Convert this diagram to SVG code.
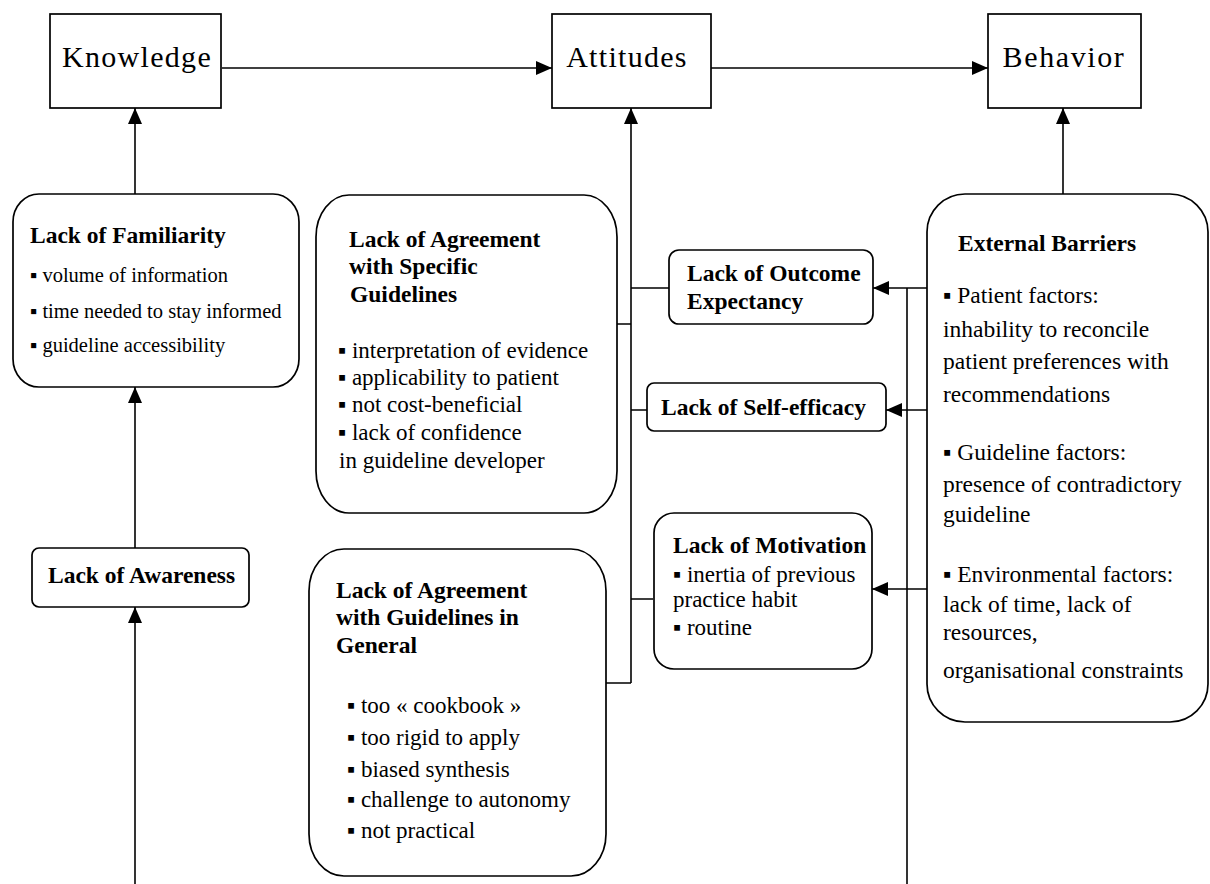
<svg xmlns="http://www.w3.org/2000/svg" width="1210" height="884" viewBox="0 0 1210 884" font-family="Liberation Serif, serif">
<style>
.box{fill:#fff;stroke:#000;stroke-width:1.7}
.c{fill:none;stroke:#000;stroke-width:1.6}
</style>
<defs>
<marker id="ah" markerUnits="userSpaceOnUse" markerWidth="16" markerHeight="14" refX="16" refY="7" orient="auto">
<path d="M0,0 L16,7 L0,14 z" fill="#000"/>
</marker>
</defs>
<g id="connectors">
<path class="c" d="M222,68 H552" marker-end="url(#ah)"/>
<path class="c" d="M711,68 H988" marker-end="url(#ah)"/>
<path class="c" d="M135,194 V108" marker-end="url(#ah)"/>
<path class="c" d="M135,548 V387" marker-end="url(#ah)"/>
<path class="c" d="M135,884 V607" marker-end="url(#ah)"/>
<path class="c" d="M631,683 V108" marker-end="url(#ah)"/>
<path class="c" d="M617,324 H631 M631,288 H669 M631,410 H647 M631,599 H653 M606,683 H631"/>
<path class="c" d="M1063,194 V108" marker-end="url(#ah)"/>
<path class="c" d="M907,884 V288"/>
<path class="c" d="M927,288 H873" marker-end="url(#ah)"/>
<path class="c" d="M927,410 H886" marker-end="url(#ah)"/>
<path class="c" d="M927,589 H872" marker-end="url(#ah)"/>
</g>
<g id="knowledge">
<rect class="box" x="50" y="14" width="171" height="94"/>
<text font-family="Liberation Serif, serif" font-size="30" letter-spacing="1.3" text-anchor="middle" x="137" y="67">Knowledge</text>
</g>
<g id="attitudes">
<rect class="box" x="552" y="14" width="159" height="94"/>
<text font-family="Liberation Serif, serif" font-size="30" letter-spacing="1.3" text-anchor="middle" x="627" y="67">Attitudes</text>
</g>
<g id="behavior">
<rect class="box" x="988" y="14" width="153" height="94"/>
<text font-family="Liberation Serif, serif" font-size="30" letter-spacing="1.6" text-anchor="middle" x="1064" y="67">Behavior</text>
</g>
<g id="familiarity">
<rect class="box" x="13" y="194" width="286" height="193" rx="26" ry="28"/>
<text font-family="Liberation Serif, serif" font-size="23.5" font-weight="bold" x="30" y="243">Lack of Familiarity</text>
<text font-family="Liberation Serif, serif" font-size="20.5" x="30" y="282">▪ volume of information</text>
<text font-family="Liberation Serif, serif" font-size="20.5" x="30" y="318">▪ time needed to stay informed</text>
<text font-family="Liberation Serif, serif" font-size="20.5" x="30" y="352">▪ guideline accessibility</text>
</g>
<g id="awareness">
<rect class="box" x="32" y="548" width="217" height="59" rx="7"/>
<text font-family="Liberation Serif, serif" font-size="23.5" font-weight="bold" x="48" y="583">Lack of Awareness</text>
</g>
<g id="specific">
<rect class="box" x="316" y="195" width="301" height="318" rx="33" ry="42"/>
<text font-family="Liberation Serif, serif" font-size="23.5" font-weight="bold" x="349" y="247">Lack of Agreement</text>
<text font-family="Liberation Serif, serif" font-size="23.5" font-weight="bold" x="349" y="274">with Specific</text>
<text font-family="Liberation Serif, serif" font-size="23.5" font-weight="bold" x="350" y="302">Guidelines</text>
<text font-family="Liberation Serif, serif" font-size="23" x="338" y="358">▪ interpretation of evidence</text>
<text font-family="Liberation Serif, serif" font-size="23" x="338" y="385">▪ applicability to patient</text>
<text font-family="Liberation Serif, serif" font-size="23" x="338" y="412">▪ not cost-beneficial</text>
<text font-family="Liberation Serif, serif" font-size="23" x="338" y="440">▪ lack of confidence</text>
<text font-family="Liberation Serif, serif" font-size="23" x="339" y="468">in guideline developer</text>
</g>
<g id="general">
<rect class="box" x="309" y="549" width="297" height="327" rx="35" ry="42"/>
<text font-family="Liberation Serif, serif" font-size="23.5" font-weight="bold" x="336" y="598">Lack of Agreement</text>
<text font-family="Liberation Serif, serif" font-size="23.5" font-weight="bold" x="336" y="625">with Guidelines in</text>
<text font-family="Liberation Serif, serif" font-size="23.5" font-weight="bold" x="336" y="653">General</text>
<text font-family="Liberation Serif, serif" font-size="23" x="347" y="713">▪ too « cookbook »</text>
<text font-family="Liberation Serif, serif" font-size="23" x="347" y="745">▪ too rigid to apply</text>
<text font-family="Liberation Serif, serif" font-size="23" x="347" y="777">▪ biased synthesis</text>
<text font-family="Liberation Serif, serif" font-size="23" x="347" y="807">▪ challenge to autonomy</text>
<text font-family="Liberation Serif, serif" font-size="23" x="347" y="838">▪ not practical</text>
</g>
<g id="outcome">
<rect class="box" x="669" y="250" width="204" height="74" rx="10"/>
<text font-family="Liberation Serif, serif" font-size="23.5" font-weight="bold" x="687" y="281">Lack of Outcome</text>
<text font-family="Liberation Serif, serif" font-size="23.5" font-weight="bold" x="687" y="309">Expectancy</text>
</g>
<g id="selfefficacy">
<rect class="box" x="647" y="383" width="239" height="48" rx="7"/>
<text font-family="Liberation Serif, serif" font-size="23.5" font-weight="bold" x="661" y="415">Lack of Self-efficacy</text>
</g>
<g id="motivation">
<rect class="box" x="654" y="513" width="218" height="156" rx="20"/>
<text font-family="Liberation Serif, serif" font-size="23.5" font-weight="bold" x="673" y="553">Lack of Motivation</text>
<text font-family="Liberation Serif, serif" font-size="23" x="673" y="582">▪ inertia of previous</text>
<text font-family="Liberation Serif, serif" font-size="23" x="673" y="607">practice habit</text>
<text font-family="Liberation Serif, serif" font-size="23" x="673" y="635">▪ routine</text>
</g>
<g id="external">
<rect class="box" x="927" y="194" width="281" height="528" rx="38" ry="38"/>
<text font-family="Liberation Serif, serif" font-size="23.5" font-weight="bold" x="958" y="251">External Barriers</text>
<text font-family="Liberation Serif, serif" font-size="23.5" x="943" y="303">▪ Patient factors:</text>
<text font-family="Liberation Serif, serif" font-size="23.5" x="943" y="337">inhability to reconcile</text>
<text font-family="Liberation Serif, serif" font-size="23.5" x="943" y="369">patient preferences with</text>
<text font-family="Liberation Serif, serif" font-size="23.5" x="943" y="402">recommendations</text>
<text font-family="Liberation Serif, serif" font-size="23.5" x="943" y="460">▪ Guideline factors:</text>
<text font-family="Liberation Serif, serif" font-size="23.5" x="943" y="492">presence of contradictory</text>
<text font-family="Liberation Serif, serif" font-size="23.5" x="943" y="522">guideline</text>
<text font-family="Liberation Serif, serif" font-size="23.5" x="943" y="582">▪ Environmental factors:</text>
<text font-family="Liberation Serif, serif" font-size="23.5" x="943" y="612">lack of time, lack of</text>
<text font-family="Liberation Serif, serif" font-size="23.5" x="943" y="640">resources,</text>
<text font-family="Liberation Serif, serif" font-size="23.5" x="943" y="678">organisational constraints</text>
</g>
</svg>
